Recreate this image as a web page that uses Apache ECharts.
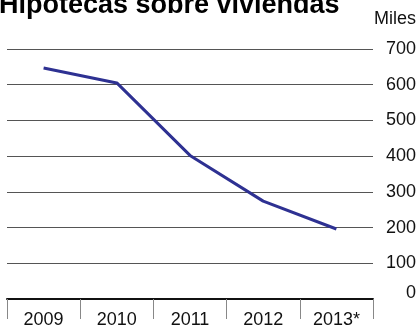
<!DOCTYPE html>
<html>
<head>
<meta charset="utf-8">
<script src="https://cdn.jsdelivr.net/npm/echarts@6/dist/echarts.min.js"></script>
<style>
html,body{margin:0;padding:0;background:#fff;}
#c{width:419px;height:329px;}
</style>
</head>
<body>
<div id="c"></div>
<script>
const titleText = 'Hipotecas sobre viviendas';
const unitText = 'Miles';
const categories = ['2009', '2010', '2011', '2012', '2013*'];
const values = [647, 605, 402, 274, 196];
const yTicks = [0, 100, 200, 300, 400, 500, 600, 700];

const FONT = 'Liberation Sans, Arial, sans-serif';
const chart = echarts.init(document.getElementById('c'), null, {renderer: 'canvas'});
chart.setOption({
  animation: false,
  backgroundColor: '#fff',
  title: {
    text: titleText,
    left: -1,
    top: -8,
    padding: 0,
    textStyle: {fontFamily: FONT, fontSize: 27, fontWeight: 'bold', color: '#000'}
  },
  graphic: [{
    type: 'text',
    right: 3,
    top: 10,
    style: {text: unitText, font: '18px ' + FONT, fill: '#111'}
  }],
  grid: {left: 7, right: 46, top: 49, bottom: 26, containLabel: false},
  xAxis: {
    type: 'category',
    data: categories,
    boundaryGap: true,
    axisLine: {show: true, lineStyle: {color: '#111', width: 2}},
    axisTick: {show: true, length: 20, lineStyle: {color: '#888', width: 1}},
    axisLabel: {margin: 12, fontFamily: FONT, fontSize: 18, color: '#111'},
    splitLine: {show: false}
  },
  yAxis: {
    type: 'value',
    position: 'right',
    min: yTicks[0],
    max: yTicks[yTicks.length - 1],
    interval: 100,
    axisLine: {show: false},
    axisTick: {show: false},
    splitLine: {show: true, lineStyle: {color: '#555', width: 1}},
    axisLabel: {
      margin: 43,
      align: 'right',
      fontFamily: FONT,
      fontSize: 18,
      color: '#111',
      formatter: v => v === 0 ? '{z|0}' : String(v),
      rich: {z: {padding: [0, 0, 12, 0], fontFamily: FONT, fontSize: 18, color: '#111'}}
    }
  },
  series: [{
    type: 'line',
    data: values,
    symbol: 'none',
    lineStyle: {color: '#2e3192', width: 3},
    z: 3
  }]
});
</script>
</body>
</html>
